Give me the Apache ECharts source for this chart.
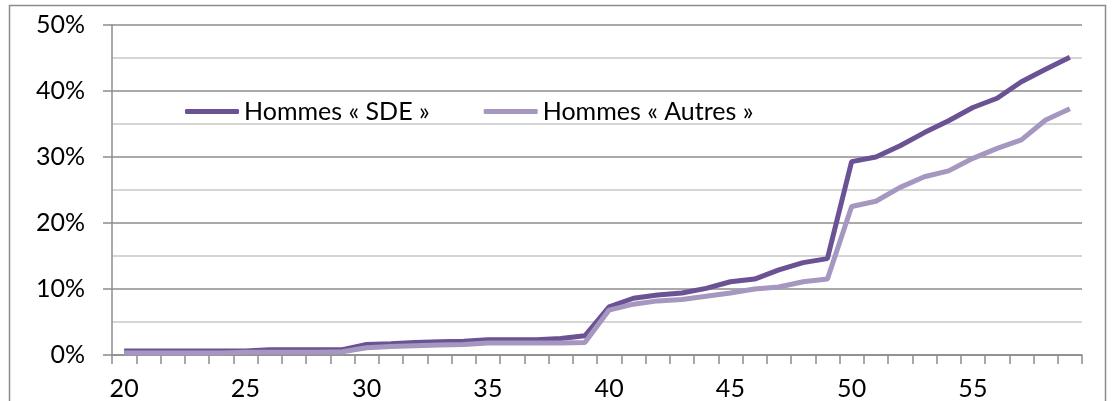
<!DOCTYPE html>
<html>
<head>
<meta charset="utf-8">
<script src="https://cdn.jsdelivr.net/npm/echarts@6/dist/echarts.min.js"></script>
<style>
html,body{margin:0;padding:0;background:#fff;}
#c{width:1115px;height:401px;}
</style>
</head>
<body>
<div id="c"></div>
<script>
const ages = [];
for (let a = 20; a <= 59; a++) ages.push(String(a));
const seriesNames = ['Hommes « SDE »', 'Hommes « Autres »'];
const sde = [0.6,0.6,0.6,0.6,0.6,0.6,0.8,0.8,0.8,0.8,
             1.6,1.7,1.9,2.0,2.1,2.3,2.3,2.3,2.5,2.9,
             7.3,8.6,9.1,9.4,10.1,11.1,11.5,12.9,14.0,14.6,
             29.3,30.0,31.7,33.7,35.5,37.5,38.9,41.4,43.3,45.1];
const autres = [0.3,0.3,0.3,0.3,0.3,0.4,0.4,0.4,0.4,0.5,
                1.1,1.3,1.4,1.5,1.6,1.8,1.8,1.8,1.8,1.9,
                6.8,7.7,8.2,8.4,8.9,9.4,10.0,10.3,11.1,11.5,
                22.5,23.3,25.4,27.0,27.9,29.8,31.3,32.6,35.6,37.3];
const yTicks = [0, 10, 20, 30, 40, 50];

const FONT = 'Lato';
const FS = 25;
const chart = echarts.init(document.getElementById('c'));
chart.setOption({
  animation: false,
  backgroundColor: '#fff',
  graphic: [{
    type: 'rect', shape: {x: 9.5, y: 5.5, width: 1096, height: 400},
    style: {fill: 'none', stroke: '#8c8c8c', lineWidth: 1.5}, silent: true, z: -1
  }],
  grid: {left: 112, right: 33, top: 25, bottom: 46},
  legend: {
    left: 180, top: 94,
    itemWidth: 54, itemHeight: 5, itemGap: 54,
    icon: 'roundRect',
    textStyle: {fontFamily: FONT, fontSize: FS, color: '#000'},
    data: seriesNames
  },
  xAxis: {
    type: 'category', data: ages, boundaryGap: true,
    axisLine: {lineStyle: {color: '#8c8c8c', width: 1.5}},
    axisTick: {show: true, interval: 0, length: 9, lineStyle: {color: '#8c8c8c', width: 1.5}},
    axisLabel: {interval: 4, margin: 21, fontFamily: FONT, fontSize: FS, color: '#000'},
    splitLine: {show: false}
  },
  yAxis: {
    type: 'value', min: yTicks[0], max: yTicks[yTicks.length - 1], interval: 10,
    axisLine: {show: true, lineStyle: {color: '#8c8c8c', width: 1.5}},
    axisTick: {show: true, length: 9, lineStyle: {color: '#8c8c8c', width: 1.5}},
    axisLabel: {formatter: '{value}%', margin: 27, fontFamily: FONT, fontSize: FS, color: '#000'},
    splitLine: {show: true, lineStyle: {color: '#8c8c8c', width: 1.5}},
    minorTick: {show: false, splitNumber: 2},
    minorSplitLine: {show: true, lineStyle: {color: '#c8c8c8', width: 1.5}}
  },
  series: [
    {name: seriesNames[0], type: 'line', data: sde, symbol: 'none', z: 2,
     lineStyle: {color: '#6b5294', width: 5}, itemStyle: {color: '#6b5294'}},
    {name: seriesNames[1], type: 'line', data: autres, symbol: 'none', z: 3,
     lineStyle: {color: '#a597bf', width: 5}, itemStyle: {color: '#a597bf'}}
  ]
});
</script>
</body>
</html>
